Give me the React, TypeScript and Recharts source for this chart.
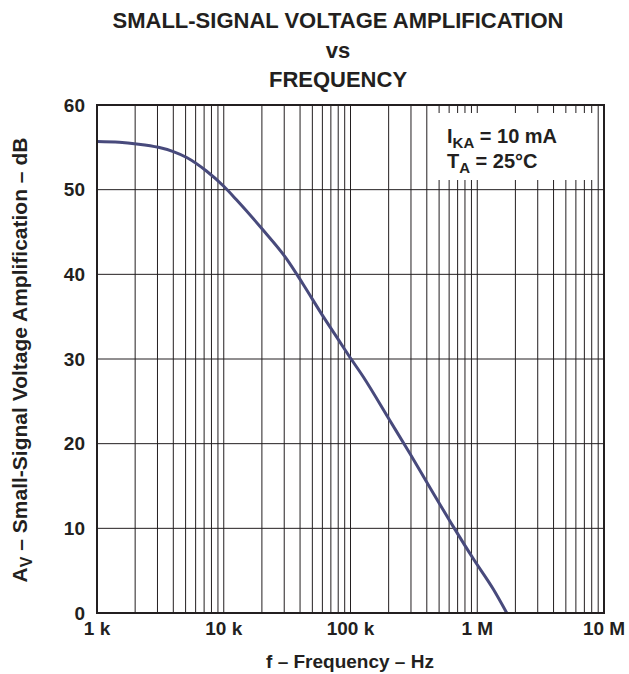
import React from 'react';
import { LineChart, Line, XAxis, YAxis, CartesianGrid } from 'recharts';

// curve
const freqHz = [1000, 1500, 2050, 3050, 4000, 5100, 7300, 10000, 12600, 20500, 31400, 42400, 61000, 82600, 96000, 126000, 205000, 295000, 424000, 647000, 931000, 1340000, 1710000];
const gainDb = [55.7, 55.6, 55.4, 55.0, 54.5, 53.8, 52.2, 50.4, 48.8, 45.2, 41.8, 38.8, 35.0, 32.0, 30.5, 27.9, 22.7, 18.8, 14.8, 10.2, 6.4, 2.8, 0];

const decades = [1000, 10000, 100000, 1000000, 10000000];
const decadeLabels = ['1 k', '10 k', '100 k', '1 M', '10 M'];
const yTicks = [0, 10, 20, 30, 40, 50, 60];

const data = freqHz.map((f, i) => ({ f, db: gainDb[i] }));

// vertical grid at 1..9 x every decade
const gridTicks: number[] = [];
decades.slice(0, -1).forEach(d => {
  for (let m = 1; m < 10; m++) gridTicks.push(d * m);
});
gridTicks.push(decades[decades.length - 1]);

const W = 629;
const H = 674;
const PL = 97, PR = 604, PT = 105, PB = 613;
const FONT = '"Liberation Sans", Arial, sans-serif';
const INK = '#231f20';

const App: React.FC = () => {
  return (
    <div style={{ position: 'relative', width: W, height: H, background: '#fff' }}>
      <style>{`body{margin:0}`}</style>
      <LineChart
        width={W}
        height={H}
        data={data}
        margin={{ top: PT, right: W - PR, bottom: 31, left: 37 }}
      >
        <CartesianGrid stroke={INK} strokeWidth={1} horizontalValues={yTicks} />
        <XAxis
          dataKey="f"
          type="number"
          scale="log"
          domain={[1000, 10000000]}
          ticks={gridTicks}
          interval={0}
          allowDataOverflow
          axisLine={false}
          tickLine={false}
          height={30}
          tickFormatter={(v: number) => {
            const i = decades.indexOf(v);
            return i >= 0 ? decadeLabels[i] : '';
          }}
          tick={{ fill: INK, fontSize: 19, fontWeight: 700, fontFamily: FONT }}
          dy={1}
        />
        <YAxis
          type="number"
          domain={[0, 60]}
          ticks={yTicks}
          interval={0}
          width={60}
          axisLine={false}
          tickLine={false}
          tick={{ fill: INK, fontSize: 19, fontWeight: 700, fontFamily: FONT }}
          dx={-4}
        />
        <Line
          type="monotone"
          dataKey="db"
          stroke="#484a7c"
          strokeWidth={3}
          dot={false}
          isAnimationActive={false}
        />
      </LineChart>
      <svg
        width={W}
        height={H}
        style={{ position: 'absolute', left: 0, top: 0, pointerEvents: 'none' }}
        fontFamily={FONT}
        fontWeight={700}
        fill={INK}
      >
        <rect x={PL} y={PT} width={PR - PL} height={PB - PT} fill="none" stroke={INK} strokeWidth={2} />
        <rect x={431} y={113} width={163} height={67} fill="#fff" />
        <text x={447} y={143} fontSize={20}>
          I<tspan fontSize={15} dy={5}>KA</tspan><tspan dy={-5}> = 10 mA</tspan>
        </text>
        <text x={447} y={168} fontSize={20}>
          T<tspan fontSize={15} dy={5}>A</tspan><tspan dy={-5}> = 25°C</tspan>
        </text>
        <text x={338} y={28} fontSize={22} textAnchor="middle">SMALL-SIGNAL VOLTAGE AMPLIFICATION</text>
        <text x={338} y={58} fontSize={22} textAnchor="middle">vs</text>
        <text x={338} y={87} fontSize={22} textAnchor="middle">FREQUENCY</text>
        <text x={350} y={668} fontSize={19} textAnchor="middle">f – Frequency – Hz</text>
        <text transform="translate(27,360) rotate(-90)" fontSize={21} textAnchor="middle">
          A<tspan fontSize={16} dy={5}>V</tspan><tspan dy={-5}> – Small-Signal Voltage Amplification – dB</tspan>
        </text>
      </svg>
    </div>
  );
};

export default App;
